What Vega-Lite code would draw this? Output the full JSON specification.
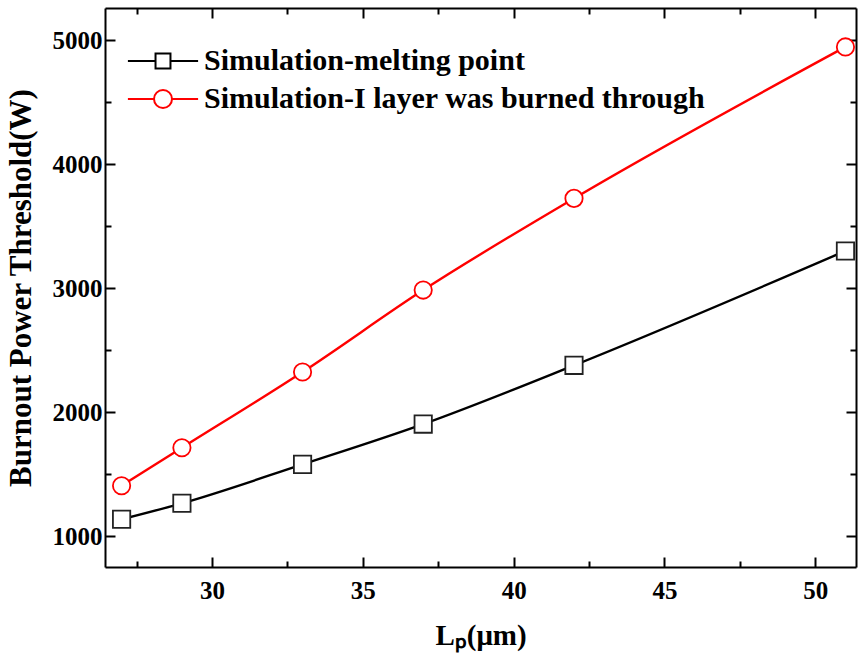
{
  "$schema": "https://vega.github.io/schema/vega-lite/v6.json",
  "width": 751,
  "height": 559,
  "autosize": {"type": "none"},
  "padding": {"left": 105, "top": 8, "right": 2, "bottom": 99},
  "background": "white",
  "config": {
    "view": {"stroke": null},
    "font": "Liberation Serif",
    "axis": {
      "grid": false,
      "domainColor": "black",
      "domainWidth": 2,
      "tickColor": "black",
      "tickWidth": 2,
      "labelFont": "Liberation Serif",
      "labelFontWeight": "bold",
      "labelFontSize": 25,
      "labelColor": "black",
      "titleFont": "Liberation Serif",
      "titleFontWeight": "bold",
      "titleColor": "black"
    }
  },
  "data": {
    "values": [
      {"series": "Simulation-melting point", "lp": 27, "p": 1135},
      {"series": "Simulation-melting point", "lp": 29, "p": 1264},
      {"series": "Simulation-melting point", "lp": 33, "p": 1578},
      {"series": "Simulation-melting point", "lp": 37, "p": 1903},
      {"series": "Simulation-melting point", "lp": 42, "p": 2377},
      {"series": "Simulation-melting point", "lp": 51, "p": 3300},
      {"series": "Simulation-I layer was burned through", "lp": 27, "p": 1406},
      {"series": "Simulation-I layer was burned through", "lp": 29, "p": 1712},
      {"series": "Simulation-I layer was burned through", "lp": 33, "p": 2323},
      {"series": "Simulation-I layer was burned through", "lp": 37, "p": 2984},
      {"series": "Simulation-I layer was burned through", "lp": 42, "p": 3724},
      {"series": "Simulation-I layer was burned through", "lp": 51, "p": 4946}
    ]
  },
  "layer": [
    {
      "mark": {"type": "line", "strokeWidth": 2.4, "interpolate": "monotone"},
      "encoding": {
        "x": {
          "field": "lp", "type": "quantitative",
          "scale": {"domain": [26.45, 51.35], "nice": false, "zero": false},
          "axis": {
            "orient": "bottom",
            "values": [27.5, 30, 32.5, 35, 37.5, 40, 42.5, 45, 47.5, 50],
            "tickSize": {"condition": {"test": "datum.value % 5 === 0", "value": -10}, "value": -6},
            "labelExpr": "datum.value % 5 === 0 ? datum.label : ''",
            "labelPadding": 21,
            "title": "Lₚ(μm)",
            "titleFontSize": 29,
            "titlePadding": 18
          }
        },
        "y": {
          "field": "p", "type": "quantitative",
          "scale": {"domain": [750, 5260], "nice": false, "zero": false},
          "axis": {
            "orient": "left",
            "values": [1000, 1500, 2000, 2500, 3000, 3500, 4000, 4500, 5000],
            "tickSize": {"condition": {"test": "datum.value % 1000 === 0", "value": -10}, "value": -6},
            "labelExpr": "datum.value % 1000 === 0 ? datum.label : ''",
            "format": "d",
            "labelPadding": 13,
            "title": "Burnout Power Threshold(W)",
            "titleFontSize": 31,
            "titlePadding": 15
          }
        },
        "color": {
          "field": "series", "type": "nominal",
          "scale": {"domain": ["Simulation-melting point", "Simulation-I layer was burned through"], "range": ["#000000", "#ff0000"]},
          "legend": null
        }
      }
    },
    {
      "mark": {"type": "point", "filled": false, "fill": "white", "strokeWidth": 1.8, "opacity": 1, "size": 300},
      "encoding": {
        "x": {
          "field": "lp", "type": "quantitative",
          "axis": {
            "orient": "top",
            "values": [27.5, 30, 32.5, 35, 37.5, 40, 42.5, 45, 47.5, 50],
            "tickSize": {"condition": {"test": "datum.value % 5 === 0", "value": -10}, "value": -6},
            "labels": false,
            "title": null
          }
        },
        "y": {
          "field": "p", "type": "quantitative",
          "axis": {
            "orient": "right",
            "values": [1000, 1500, 2000, 2500, 3000, 3500, 4000, 4500, 5000],
            "tickSize": {"condition": {"test": "datum.value % 1000 === 0", "value": -10}, "value": -6},
            "labels": false,
            "title": null
          }
        },
        "color": {
          "field": "series", "type": "nominal",
          "scale": {"domain": ["Simulation-melting point", "Simulation-I layer was burned through"], "range": ["#222222", "#ff0000"]},
          "legend": null
        },
        "shape": {
          "field": "series", "type": "nominal",
          "scale": {"domain": ["Simulation-melting point", "Simulation-I layer was burned through"], "range": ["square", "circle"]},
          "legend": null
        }
      }
    },
    {
      "transform": [{"filter": "false"}],
      "mark": {"type": "point", "filled": false, "strokeWidth": 2, "opacity": 1},
      "encoding": {
        "x": {"field": "lp", "type": "quantitative", "axis": null},
        "y": {"field": "p", "type": "quantitative", "axis": null},
        "color": {
          "field": "series", "type": "nominal",
          "scale": {"domain": ["Simulation-melting point", "Simulation-I layer was burned through"], "range": ["#000000", "#ff0000"]},
          "legend": {
            "orient": "none", "legendX": 43, "legendY": 38, "title": null,
            "symbolSize": 324, "symbolStrokeWidth": 2,
            "labelFont": "Liberation Serif", "labelFontWeight": "bold", "labelFontSize": 30, "labelColor": "black",
            "labelOffset": 26, "rowPadding": 8, "padding": 0, "labelLimit": 0
          }
        },
        "shape": {
          "field": "series", "type": "nominal",
          "scale": {"domain": ["Simulation-melting point", "Simulation-I layer was burned through"], "range": ["M-3.9,0H-0.83M0.83,0H3.9M-0.83,-0.83H0.83V0.83H-0.83Z", "M-3.9,0H-1M1,0H3.9M-1,0A1,1 0 1,0 1,0A1,1 0 1,0 -1,0Z"]},
          "legend": {
            "orient": "none", "legendX": 43, "legendY": 38, "title": null,
            "symbolSize": 324, "symbolStrokeWidth": 2,
            "labelFont": "Liberation Serif", "labelFontWeight": "bold", "labelFontSize": 30, "labelColor": "black",
            "labelOffset": 26, "rowPadding": 8, "padding": 0, "labelLimit": 0
          }
        }
      }
    }
  ],
  "resolve": {
    "scale": {"color": "independent", "shape": "independent"},
    "axis": {"x": "independent", "y": "independent"}
  }
}
